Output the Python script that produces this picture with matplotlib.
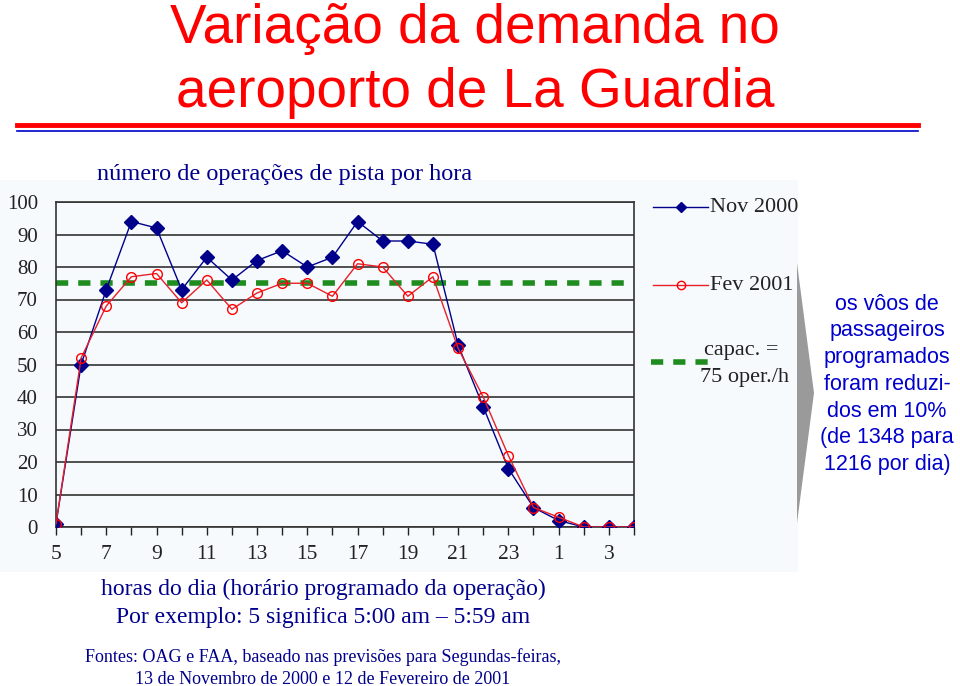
import numpy as np
import matplotlib
matplotlib.use("Agg")
import matplotlib.pyplot as plt
from matplotlib.lines import Line2D
from matplotlib.patches import Rectangle, Polygon

# hours of the day (5 am through 4 am next day)
hours = [5, 6, 7, 8, 9, 10, 11, 12, 13, 14, 15, 16, 17, 18, 19, 20, 21, 22, 23, 0, 1, 2, 3, 4]
nov_2000 = [1, 50, 73, 94, 92, 73, 83, 76, 82, 85, 80, 83, 94, 88, 88, 87, 56, 37, 18, 6, 2, 0, 0, 0]
fev_2001 = [1, 52, 68, 77, 78, 69, 76, 67, 72, 75, 75, 71, 81, 80, 71, 77, 55, 40, 22, 6, 3, 0, 0, 0]
capacity = 75
y_ticks = [0, 10, 20, 30, 40, 50, 60, 70, 80, 90, 100]

SERIF = "Liberation Serif"
SANS = "Liberation Sans"
NAVY = "#00008B"
BLUE_TXT = "#0000CC"
RED = "#FF0000"
GREEN = "#1E8C1E"

fig = plt.figure(figsize=(9.6, 6.86), dpi=100)
fig.patch.set_facecolor("white")


def fy(py):
    return 1 - py / 686


# light panel behind the chart
fig.add_artist(Rectangle((0, fy(572)), 798 / 960, 392 / 686,
                         transform=fig.transFigure, facecolor="#F6FAFD",
                         edgecolor="none", zorder=0))

# title and rules
fig.text(0.495, fy(29), "Variação da demanda no", ha="center", va="center",
         color=RED, fontsize=39.5, family=SANS)
fig.text(0.495, fy(93), "aeroporto de La Guardia", ha="center", va="center",
         color=RED, fontsize=39.5, family=SANS)
fig.add_artist(Line2D([17 / 960, 918 / 960], [fy(125)] * 2, color=RED, lw=3.5,
                      transform=fig.transFigure))
fig.add_artist(Line2D([17 / 960, 918 / 960], [fy(131)] * 2, color="#0000CC", lw=1.2,
                      transform=fig.transFigure))

fig.text(97 / 960, fy(175), "número de operações de pista por hora", ha="left",
         va="center", color=NAVY, fontsize=17.5, family=SERIF)

ax = fig.add_axes([56 / 960, fy(527), 578 / 960, 325 / 686])
ax.set_facecolor("none")
x = np.arange(len(hours))

ax.plot(x, nov_2000, color=NAVY, lw=1, marker="D", ms=7.5, mfc=NAVY, mec=NAVY, zorder=3)
ax.plot(x, fev_2001, color="#E8202A", lw=1, marker="o", ms=7, mfc="none", mec=RED,
        mew=1, zorder=4)
ax.axhline(capacity, color=GREEN, lw=4, ls=(0, (2.2, 1.8)), zorder=2)

ax.set_xlim(0, len(hours) - 1)
ax.set_ylim(0, 100)
ax.set_yticks(y_ticks)
ax.set_yticklabels([str(v) for v in y_ticks], family=SERIF, fontsize=15, color="#222222")
ax.set_xticks(x)
ax.set_xticklabels([str(h) if i % 2 == 0 else "" for i, h in enumerate(hours)],
                   family=SERIF, fontsize=15.5, color="#222222")
ax.tick_params(axis="x", direction="out", length=6, width=1, pad=7, color="#222222")
ax.tick_params(axis="y", length=0, pad=13)
ax.grid(axis="y", color="#333333", lw=1.2)
for s in ax.spines.values():
    s.set_color("#333333")
    s.set_linewidth(1.2)
ax.set_axisbelow(True)

# manual legend
fig.add_artist(Line2D([653 / 960, 708 / 960], [fy(207)] * 2, color=NAVY, lw=1,
                      transform=fig.transFigure))
fig.add_artist(Line2D([681 / 960], [fy(207)], color=NAVY, marker="D", ms=5.5,
                      transform=fig.transFigure))
fig.text(710 / 960, fy(207), "Nov 2000", ha="left", va="center", fontsize=16,
         family=SERIF, color="#222222")
fig.add_artist(Line2D([653 / 960, 708 / 960], [fy(285)] * 2, color="#E8202A", lw=1,
                      transform=fig.transFigure))
fig.add_artist(Line2D([681 / 960], [fy(285)], color=RED, marker="o", ms=6, mfc="none",
                      transform=fig.transFigure))
fig.text(710 / 960, fy(285), "Fev 2001", ha="left", va="center", fontsize=16,
         family=SERIF, color="#222222")
fig.add_artist(Line2D([651 / 960, 708 / 960], [fy(362)] * 2, color=GREEN, lw=4,
                      ls=(0, (2.2, 1.8)), transform=fig.transFigure))
fig.text(741 / 960, fy(350), "capac. =", ha="center", va="center", fontsize=16,
         family=SERIF, color="#222222")
fig.text(745 / 960, fy(378), "75 oper./h", ha="center", va="center", fontsize=16,
         family=SERIF, color="#222222")

# gray wedge
fig.add_artist(Polygon([(797 / 960, fy(263)), (814 / 960, fy(393)), (797 / 960, fy(523))],
                       closed=True, transform=fig.transFigure, facecolor="#9A9A9A",
                       edgecolor="none"))

side = ["os vôos de", "passageiros", "programados", "foram reduzi-",
        "dos em 10%", "(de 1348 para", "1216 por dia)"]
for i, line in enumerate(side):
    fig.text(887 / 960, fy(304 + i * 26.8), line, ha="center", va="center",
             fontsize=15.5, family=SANS, color=BLUE_TXT)

fig.text(323 / 960, fy(589), "horas do dia (horário programado da operação)",
         ha="center", va="center", fontsize=17, family=SERIF, color=NAVY)
fig.text(323 / 960, fy(617), "Por exemplo: 5 significa 5:00 am – 5:59 am",
         ha="center", va="center", fontsize=17, family=SERIF, color=NAVY)
fig.text(323 / 960, fy(657), "Fontes: OAG e FAA, baseado nas previsões para Segundas-feiras,",
         ha="center", va="center", fontsize=13, family=SERIF, color=NAVY)
fig.text(323 / 960, fy(679), "13 de Novembro de 2000 e 12 de Fevereiro de 2001",
         ha="center", va="center", fontsize=13, family=SERIF, color=NAVY)

fig.savefig("out.png", dpi=100)
